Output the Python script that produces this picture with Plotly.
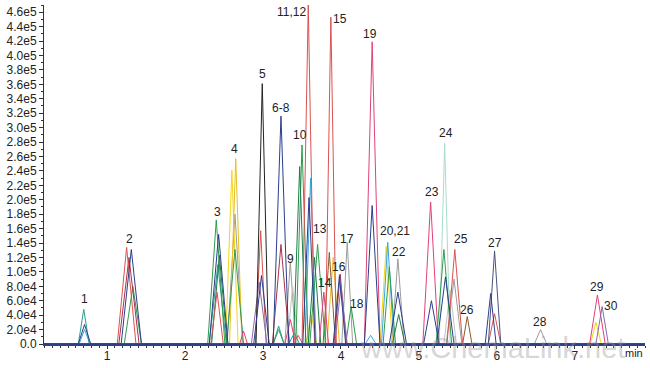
import plotly.graph_objects as go

# ---- data: peak retention times (min), heights (counts) and half-base widths (min) per colour trace ----
teal_t = [0.70, 2.42, 3.20, 3.40]
teal_h = [48000, 110000, 25000, 15000]
teal_w = [0.07, 0.11, 0.07, 0.07]

navy_t = [0.71, 1.31, 2.43, 2.98, 3.23, 3.59, 3.98, 4.40, 4.73, 5.16, 5.34, 5.92]
navy_h = [27000, 131000, 152000, 95000, 316000, 203000, 95000, 192000, 72000, 60000, 93000, 70000]
navy_w = [0.08, 0.13, 0.12, 0.10, 0.10, 0.08, 0.08, 0.10, 0.11, 0.10, 0.11, 0.07]

red_t = [1.25, 2.41, 2.97, 3.45, 3.58, 3.87, 5.46, 5.97]
red_h = [134000, 72000, 157000, 12000, 470000, 453000, 131000, 42000]
red_w = [0.12, 0.08, 0.07, 0.06, 0.08, 0.07, 0.10, 0.08]

crimson_t = [1.28, 3.23, 3.99]
crimson_h = [120000, 138000, 97000]
crimson_w = [0.13, 0.11, 0.08]

green_t = [1.33, 2.40, 2.64, 3.20, 3.50, 3.70, 4.13, 4.62, 5.32]
green_h = [80000, 172000, 131000, 20000, 276000, 138000, 52000, 107000, 131000]
green_w = [0.11, 0.11, 0.11, 0.07, 0.08, 0.10, 0.07, 0.08, 0.10]

dkgreen_t = [2.44, 3.47, 3.66, 4.74]
dkgreen_h = [123000, 246000, 120000, 41000]
dkgreen_w = [0.10, 0.08, 0.08, 0.08]

pink_t = [2.75, 3.35, 3.78, 4.40, 5.15, 7.29]
pink_h = [18000, 34000, 72000, 419000, 197000, 68000]
pink_w = [0.05, 0.07, 0.06, 0.10, 0.10, 0.10]

yellow_t = [2.60, 3.62, 4.58, 7.27]
yellow_h = [241000, 40000, 135000, 30000]
yellow_w = [0.08, 0.07, 0.08, 0.07]

gold_t = [2.65, 3.90]
gold_h = [257000, 120000]
gold_w = [0.08, 0.08]

gray_t = [2.64, 3.35, 4.08, 4.73, 5.45, 6.56]
gray_h = [180000, 114000, 141000, 118000, 90000, 20000]
gray_w = [0.10, 0.07, 0.07, 0.08, 0.10, 0.08]

ltgray_t = [3.38, 5.40]
ltgray_h = [80000, 75000]
ltgray_w = [0.07, 0.08]

black_t = [2.99]
black_h = [361000]
black_w = [0.08]

ltblue_t = [0.71, 3.61, 4.38, 4.60]
ltblue_h = [20000, 230000, 12000, 141000]
ltblue_w = [0.07, 0.07, 0.07, 0.08]

brown_t = [3.85, 5.62]
brown_h = [127000, 38000]
brown_w = [0.08, 0.06]

mint_t = [5.33]
mint_h = [278000]
mint_w = [0.07]

purple_t = [2.95, 4.00, 7.35]
purple_h = [86000, 80000, 52000]
purple_w = [0.10, 0.08, 0.08]

slate_t = [5.97]
slate_h = [129000]
slate_w = [0.08]

traces = [
    ("gray", "#9c9c9c", gray_t, gray_h, gray_w),
    ("ltgray", "#c4c4c4", ltgray_t, ltgray_h, ltgray_w),
    ("mint", "#a9dcc8", mint_t, mint_h, mint_w),
    ("yellow", "#f3d616", yellow_t, yellow_h, yellow_w),
    ("gold", "#e8c020", gold_t, gold_h, gold_w),
    ("brown", "#8c5a2e", brown_t, brown_h, brown_w),
    ("ltblue", "#3aa6e0", ltblue_t, ltblue_h, ltblue_w),
    ("teal", "#2a9d95", teal_t, teal_h, teal_w),
    ("green", "#2e9b4f", green_t, green_h, green_w),
    ("dkgreen", "#1f7a45", dkgreen_t, dkgreen_h, dkgreen_w),
    ("crimson", "#a8324a", crimson_t, crimson_h, crimson_w),
    ("red", "#d9534f", red_t, red_h, red_w),
    ("pink", "#e0407a", pink_t, pink_h, pink_w),
    ("purple", "#8a6aa8", purple_t, purple_h, purple_w),
    ("black", "#222222", black_t, black_h, black_w),
    ("slate", "#4a5080", slate_t, slate_h, slate_w),
    ("navy", "#2c3e8c", navy_t, navy_h, navy_w),
]

peak_labels = ["1", "2", "3", "4", "5", "6-8", "9", "10", "11,12", "13", "14", "15", "16", "17",
               "18", "19", "20,21", "22", "23", "24", "25", "26", "27", "28", "29", "30"]
label_t = [0.71, 1.29, 2.41, 2.63, 2.99, 3.23, 3.35, 3.47, 3.37, 3.73, 3.79, 3.99, 3.97, 4.08,
           4.21, 4.37, 4.69, 4.74, 5.17, 5.35, 5.54, 5.62, 5.97, 6.55, 7.29, 7.46]
label_v = [63000, 145000, 183000, 270000, 374000, 327000, 118000, 290000, 460000, 159000, 84000,
           450000, 107000, 145000, 56000, 430000, 156000, 127000, 211000, 293000, 145000, 47000,
           140000, 30000, 79000, 52000]

x_ticks = [1, 2, 3, 4, 5, 6, 7]
y_tickvals = [i * 20000 for i in range(24)]
y_ticktext = ["0.0"] + ["%.1fe4" % (v / 1e4) for v in y_tickvals[1:5]] + \
             ["%.1fe5" % (v / 1e5) for v in y_tickvals[5:]]

X_MIN, X_MAX = 0.19, 7.90
FONT = "Liberation Sans, Arial"

fig = go.Figure()
for name, color, ts, hs, ws in traces:
    xs, ys = [X_MIN], [0]
    for t, h, w in sorted(zip(ts, hs, ws)):
        xs += [t - w, t, t + w]
        ys += [0, h, 0]
    xs.append(X_MAX)
    ys.append(0)
    fig.add_trace(go.Scatter(x=xs, y=ys, mode="lines", name=name,
                             line=dict(color=color, width=1), hoverinfo="skip"))

for lab, t, v in zip(peak_labels, label_t, label_v):
    fig.add_annotation(x=t, y=v, text=lab, showarrow=False,
                       font=dict(family=FONT, size=12, color="#222222"))

fig.add_annotation(x=5.94, y=0, text="www.ChemaLink.net", showarrow=False, yanchor="middle",
                   yshift=-4,
                   font=dict(family=FONT, size=29, color="rgba(150,150,150,0.40)"))
fig.add_annotation(xref="paper", yref="paper", x=1.0, y=0, text="min", showarrow=False,
                   xanchor="right", yanchor="top", yshift=-1,
                   font=dict(family=FONT, size=11, color="#222222"))

fig.update_layout(
    width=650, height=368,
    margin=dict(l=44, r=5, t=5, b=20),
    paper_bgcolor="white", plot_bgcolor="white",
    showlegend=False,
    xaxis=dict(range=[X_MIN, X_MAX], tickvals=x_ticks, showgrid=False, zeroline=False,
               showline=True, linecolor="#2c3e8c", linewidth=2,
               ticks="outside", ticklen=3, tickcolor="#333333", ticklabelstandoff=-3,
               minor=dict(dtick=0.1, ticks="outside", ticklen=2, tickcolor="#333333"),
               tickfont=dict(family=FONT, size=12, color="#222222")),
    yaxis=dict(range=[0, 470000], tickvals=y_tickvals, ticktext=y_ticktext, showgrid=False,
               zeroline=False, showline=True, linecolor="#333333", linewidth=1,
               ticks="outside", ticklen=4, tickcolor="#333333",
               minor=dict(dtick=10000, ticks="outside", ticklen=2, tickcolor="#333333"),
               tickfont=dict(family=FONT, size=12, color="#222222")),
)

fig.write_html("out.html", config={"displayModeBar": False},
               post_script="document.body.style.margin='0px';")
